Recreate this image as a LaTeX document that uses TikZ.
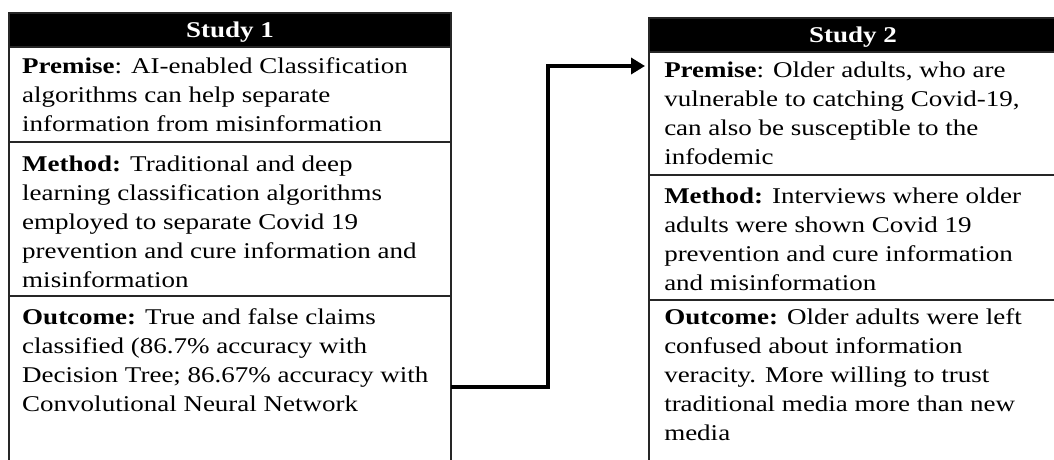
\documentclass[tikz,border=0pt]{standalone}
\usepackage{fontspec}
\setmainfont{Liberation Serif}
\usetikzlibrary{arrows.meta}

\tikzset{
    cell/.style={anchor=north west, inner sep=0pt, align=left, xscale=1.2,
        font=\fontsize{22.5}{29}\selectfont},
    head/.style={anchor=base, inner sep=0pt, xscale=1.2, text=white,
        font=\fontsize{22.5}{29}\selectfont\bfseries},
    grid/.style={draw=black!85, line width=1.6pt},
    link/.style={line width=4pt, -{Triangle[length=14pt,width=16pt]}}
}

\begin{document}
\begin{tikzpicture}[x=1pt,y=-1pt]
    \path[use as bounding box, clip] (0,0) rectangle (1054,460);
    \fill[white] (0,0) rectangle (1054,460);

    % study 1
    \fill[black] (9,13) rectangle (451,47);
    \draw[grid] (9,470) -- (9,13) -- (451,13) -- (451,470);
    \draw[grid] (9,47) -- (451,47) (9,142) -- (451,142) (9,296) -- (451,296);
    \node[head] (s1) at (230,37.5) {Study 1};
    \node[cell] (s1p) at (22,57.5) {\textbf{Premise}: AI-enabled Classification\\algorithms can help separate\\information from misinformation};
    \node[cell] (s1m) at (22,155.5) {\textbf{Method:} Traditional and deep\\learning classification algorithms\\employed to separate Covid 19\\prevention and cure information and\\misinformation};
    \node[cell] (s1o) at (22,308.5) {\textbf{Outcome:} True and false claims\\classified (86.7\% accuracy with\\Decision Tree; 86.67\% accuracy with\\Convolutional Neural Network};

    % study 2
    \fill[black] (649,18) rectangle (1060,52);
    \draw[grid] (649,470) -- (649,18) -- (1060,18);
    \draw[grid] (649,52) -- (1060,52) (649,175) -- (1060,175) (649,300) -- (1060,300);
    \node[head] (s2) at (853,42.5) {Study 2};
    \node[cell] (s2p) at (664,61.5) {\textbf{Premise}: Older adults, who are\\vulnerable to catching Covid-19,\\can also be susceptible to the\\infodemic};
    \node[cell] (s2m) at (664,187.5) {\textbf{Method:} Interviews where older\\adults were shown Covid 19\\prevention and cure information\\and misinformation};
    \node[cell] (s2o) at (664,308.5) {\textbf{Outcome:} Older adults were left\\confused about information\\veracity. More willing to trust\\traditional media more than new\\media};

    % link
    \coordinate (out) at (451,387);
    \coordinate (in) at (645,66);
    \draw[link] (out) -- ++(97,0) |- (in);
\end{tikzpicture}
\end{document}
